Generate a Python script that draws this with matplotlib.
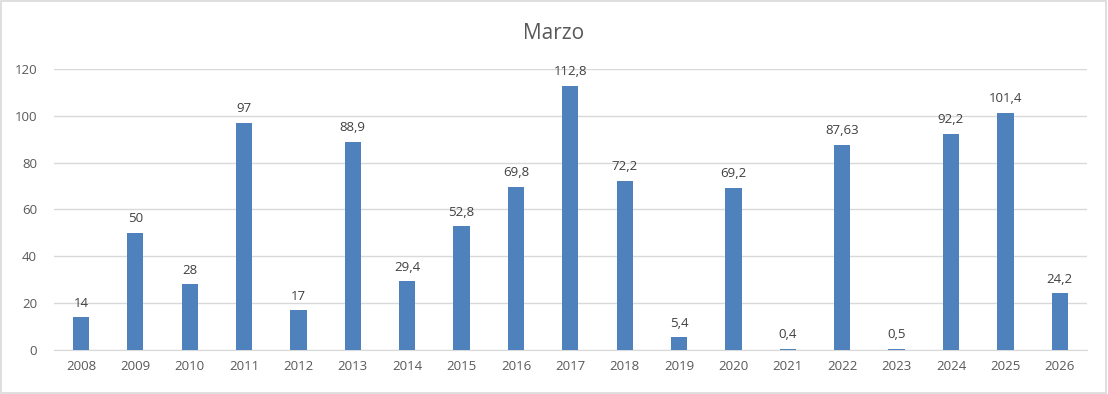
import matplotlib.pyplot as plt
from matplotlib.patches import Rectangle

years = ['2008', '2009', '2010', '2011', '2012', '2013', '2014', '2015', '2016', '2017',
         '2018', '2019', '2020', '2021', '2022', '2023', '2024', '2025', '2026']
rain = [14, 50, 28, 97, 17, 88.9, 29.4, 52.8, 69.8, 112.8,
        72.2, 5.4, 69.2, 0.4, 87.63, 0.5, 92.2, 101.4, 24.2]
labels = ['14', '50', '28', '97', '17', '88,9', '29,4', '52,8', '69,8', '112,8',
          '72,2', '5,4', '69,2', '0,4', '87,63', '0,5', '92,2', '101,4', '24,2']
yticks = [0, 20, 40, 60, 80, 100, 120]

plt.rcParams['font.family'] = ['Open Sans', 'DejaVu Sans']
grey = '#595959'
grid = '#D9D9D9'

fig = plt.figure(figsize=(11.08, 3.94), dpi=100)
fig.patches.append(Rectangle((0.001, 0.002), 0.997, 0.995, transform=fig.transFigure,
                             fill=False, edgecolor=grid, linewidth=1.2))
ax = fig.add_axes([0.0485, 0.1117, 0.9325, 0.7132])

x = range(len(years))
bars = ax.bar(x, rain, width=0.3, color='#4F81BD', zorder=3)
for xi, v, lab in zip(x, rain, labels):
    ax.annotate(lab, (xi, v), xytext=(0, 5.5), textcoords='offset points',
                ha='center', va='bottom', fontsize=9.5, color='#404040')

ax.set_xlim(-0.5, len(years) - 0.5)
ax.set_ylim(0, 120)
ax.set_yticks(yticks)
ax.set_xticks(list(x))
ax.set_xticklabels(years)
ax.tick_params(axis='both', length=0, labelsize=9.5, colors=grey)
ax.tick_params(axis='y', pad=12)
ax.tick_params(axis='x', pad=7)
ax.grid(axis='y', color=grid, linewidth=1, zorder=0)
for s in ['top', 'right', 'left']:
    ax.spines[s].set_visible(False)
ax.spines['bottom'].set_color(grid)
ax.set_facecolor('none')

fig.text(0.5, 0.915, 'Marzo', ha='center', va='center', fontsize=15, color=grey)

fig.savefig('out.png', dpi=100)
